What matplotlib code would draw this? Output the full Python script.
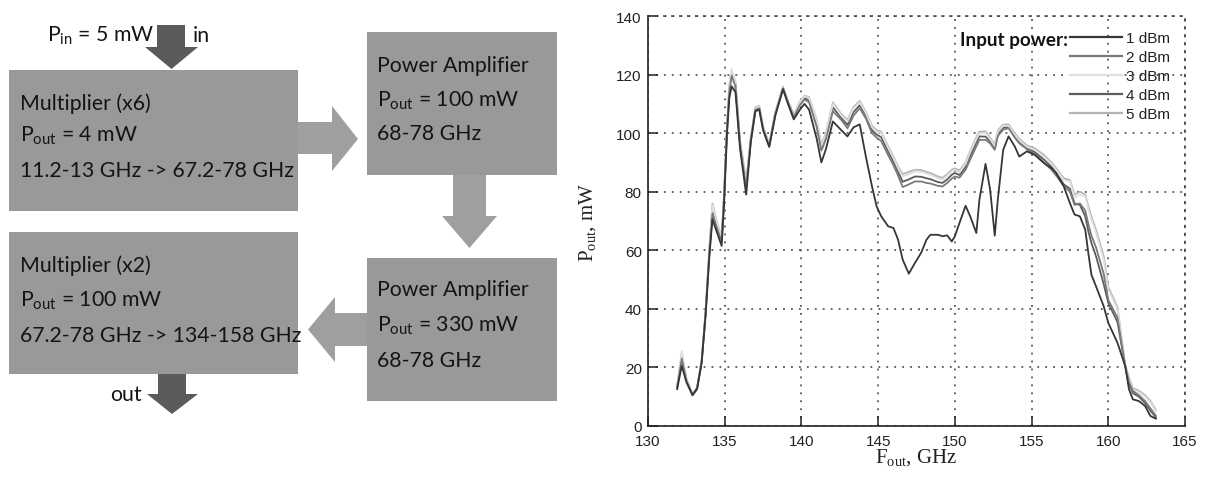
import matplotlib
matplotlib.use('Agg')
import matplotlib.pyplot as plt
from matplotlib.patches import Rectangle, Polygon
from matplotlib import font_manager

# ---------------- data ----------------
freq = [131.9, 132.2, 132.5, 132.9, 133.2, 133.5, 133.75, 134.0, 134.2, 134.5,
        134.8, 134.95, 135.15, 135.3, 135.45, 135.7, 136.0, 136.4, 136.7, 137.0,
        137.25, 137.5, 137.9, 138.3, 138.8, 139.1, 139.5, 139.9, 140.2, 140.5,
        141.0, 141.3, 141.6, 142.05, 142.6, 143.0, 143.4, 143.8, 144.2, 144.6,
        144.9, 145.2, 145.65, 146.0, 146.3, 146.6, 147.0, 147.4, 147.8, 148.15,
        148.4, 148.9, 149.2, 149.5, 149.8, 150.0, 150.3, 150.7, 151.0, 151.4,
        151.6, 152.0, 152.3, 152.6, 152.8, 153.15, 153.5, 153.9, 154.2, 154.7,
        155.2, 155.8, 156.3, 156.6, 157.1, 157.5, 157.8, 158.15, 158.5, 158.7,
        158.9, 159.2, 159.7, 160.0, 160.6, 161.1, 161.35, 161.6, 162.0, 162.4,
        162.75, 163.1]

p_1dbm = [12.6, 20.6, 15.0, 10.5, 12.6, 21.7, 37.6, 58.0, 70.6, 66.0,
          61.5, 75.0, 100.0, 112.0, 116.0, 114.0, 94.6, 79.0, 97.0, 107.5,
          108.0, 101.0, 95.3, 106.0, 115.0, 110.3, 104.7, 108.0, 110.0, 108.0,
          98.0, 90.0, 94.6, 104.0, 101.0, 98.9, 102.0, 103.0, 92.0, 81.8,
          75.0, 71.6, 68.2, 67.6, 63.6, 56.8, 52.0, 55.7, 59.1, 63.6,
          65.3, 65.3, 64.8, 65.1, 63.0, 64.8, 69.3, 75.2, 71.6, 65.9,
          77.3, 89.5, 80.7, 65.0, 77.3, 94.3, 98.9, 95.5, 92.0, 93.8,
          92.6, 89.8, 88.0, 86.4, 81.8, 76.1, 72.2, 71.6, 67.0, 59.0,
          51.7, 47.7, 40.9, 35.2, 28.4, 20.5, 12.5, 9.1, 8.5, 6.8,
          3.4, 2.5]

p_2dbm = [13.0, 23.0, 15.5, 10.8, 13.0, 22.0, 38.0, 59.0, 72.5, 67.5,
          63.0, 77.0, 101.0, 114.0, 119.5, 116.0, 96.0, 81.5, 97.5, 108.0,
          108.5, 101.5, 95.5, 106.5, 115.3, 110.8, 105.5, 109.5, 111.5, 110.5,
          102.0, 94.0, 98.0, 107.5, 104.5, 101.7, 106.0, 108.5, 105.0, 100.0,
          98.5, 97.3, 92.5, 89.0, 85.5, 81.6, 82.5, 83.5, 83.5, 83.0,
          82.8, 82.0, 81.8, 83.0, 84.5, 85.2, 84.8, 87.5, 91.0, 95.5,
          97.7, 97.7, 96.5, 94.3, 99.0, 101.2, 101.7, 98.5, 96.5, 94.5,
          93.0, 90.0, 87.5, 85.5, 82.0, 80.0, 75.5, 76.0, 73.5, 69.0,
          65.0, 61.0, 52.0, 43.0, 37.0, 20.5, 15.0, 12.0, 10.5, 8.5,
          6.0, 3.5]

p_3dbm = [13.5, 25.7, 16.0, 10.5, 13.0, 22.5, 39.0, 60.0, 75.5, 69.0,
          64.0, 78.0, 102.0, 116.0, 122.0, 117.0, 97.0, 83.0, 98.0, 108.5,
          109.0, 102.0, 96.0, 107.0, 115.5, 111.0, 106.0, 110.5, 112.6, 112.0,
          104.0, 95.5, 99.5, 110.0, 106.0, 104.0, 108.5, 110.5, 106.8, 102.0,
          100.5, 100.0, 95.0, 91.5, 88.0, 85.2, 86.0, 86.9, 86.8, 86.2,
          85.8, 84.6, 84.1, 85.5, 87.0, 87.5, 86.6, 89.5, 93.5, 98.0,
          100.0, 100.0, 98.0, 95.5, 100.5, 102.5, 102.5, 99.5, 97.5, 95.3,
          94.3, 92.0, 89.5, 87.5, 84.0, 83.5, 78.0, 79.0, 78.4, 74.0,
          70.5, 66.0, 56.8, 46.6, 39.8, 20.5, 15.9, 12.5, 11.5, 10.0,
          8.0, 5.0]

p_4dbm = [13.2, 24.0, 15.8, 10.6, 12.8, 22.2, 38.5, 59.5, 74.0, 68.0,
          63.5, 77.5, 101.5, 115.0, 120.5, 116.5, 96.5, 82.0, 97.8, 108.2,
          108.8, 101.8, 95.8, 106.8, 115.4, 111.0, 105.8, 110.0, 112.0, 111.2,
          103.0, 94.8, 98.8, 108.8, 105.2, 102.8, 107.2, 109.5, 106.0, 101.0,
          99.5, 98.6, 93.8, 90.2, 86.8, 83.4, 84.2, 85.2, 85.1, 84.6,
          84.3, 83.3, 83.0, 84.2, 85.8, 86.4, 85.7, 88.5, 92.3, 96.8,
          98.9, 98.8, 97.2, 94.9, 99.8, 101.9, 102.1, 99.0, 97.0, 94.9,
          93.6, 91.0, 88.5, 86.5, 82.5, 81.0, 76.0, 75.5, 71.6, 66.5,
          62.5, 58.0, 48.5, 42.0, 35.5, 20.5, 14.5, 11.2, 10.0, 7.8,
          5.2, 3.0]

p_5dbm = [13.6, 25.0, 16.2, 10.7, 13.2, 22.8, 39.2, 60.5, 76.0, 69.5,
          64.5, 78.5, 102.5, 116.5, 121.5, 117.5, 97.5, 83.5, 98.3, 108.8,
          109.3, 102.3, 96.3, 107.3, 115.8, 111.3, 106.3, 110.8, 112.8, 112.3,
          104.5, 96.0, 100.0, 110.5, 106.5, 104.5, 109.0, 111.0, 107.2, 102.5,
          101.0, 100.5, 95.5, 92.0, 88.5, 86.0, 86.8, 87.5, 87.4, 86.8,
          86.4, 85.2, 84.7, 86.0, 87.5, 88.0, 87.2, 90.0, 94.0, 98.6,
          100.5, 100.6, 98.5, 96.0, 101.0, 102.9, 103.0, 100.0, 98.0, 95.8,
          94.8, 92.6, 90.0, 88.0, 84.6, 84.0, 79.0, 80.0, 79.0, 75.0,
          71.5, 67.0, 58.0, 47.5, 40.5, 21.0, 16.5, 13.0, 12.0, 10.5,
          8.5, 5.5]

series_labels = ['1 dBm', '2 dBm', '3 dBm', '4 dBm', '5 dBm']
series_values = [p_1dbm, p_2dbm, p_3dbm, p_4dbm, p_5dbm]
series_colors = ['#363636', '#7a7a7a', '#e0e0e0', '#5c5c5c', '#b4b4b4']

x_ticks = [130, 135, 140, 145, 150, 155, 160, 165]
y_ticks = [0, 20, 40, 60, 80, 100, 120, 140]

# block diagram texts
box1_lines = ['Multiplier (x6)', r'P$\mathregular{_{out}}$ = 4 mW', '11.2-13 GHz -> 67.2-78 GHz']
box2_lines = ['Power Amplifier', r'P$\mathregular{_{out}}$ = 100 mW', '68-78 GHz']
box3_lines = ['Power Amplifier', r'P$\mathregular{_{out}}$ = 330 mW', '68-78 GHz']
box4_lines = ['Multiplier (x2)', r'P$\mathregular{_{out}}$ = 100 mW', '67.2-78 GHz -> 134-158 GHz']
pin_text = r'P$\mathregular{_{in}}$ = 5 mW'

# ---------------- figure ----------------
W, H = 1206, 481
plt.rcParams['font.family'] = ['Liberation Sans', 'DejaVu Sans']
fig = plt.figure(figsize=(W / 100, H / 100), dpi=100)

names = {f.name for f in font_manager.fontManager.ttflist}
if 'Liberation Sans Narrow' in names:
    diag_font, diag_size = 'Liberation Sans Narrow', 18.3
else:
    diag_font, diag_size = 'Lato', 15.3

# diagram drawn in pixel coordinates on a full-figure axes
dax = fig.add_axes([0, 0, 1, 1], zorder=0)
dax.set_xlim(0, W)
dax.set_ylim(H, 0)
dax.axis('off')

box_col = '#999999'
side_arrow_col = '#9f9f9f'
dark_arrow_col = '#5b5b5b'
txt_col = '#141414'

boxes = [(9, 71, 298, 212), (367, 33, 557, 176), (367, 259, 557, 402), (9, 233, 298, 375)]
for x0, y0, x1, y1 in boxes:
    dax.add_patch(Rectangle((x0, y0), x1 - x0, y1 - y0, facecolor=box_col, edgecolor='none'))

arrows = [
    ([(157, 26), (185, 26), (185, 48), (198, 48), (171.5, 70), (145, 48), (157, 48)], dark_arrow_col),
    ([(298, 123), (332, 123), (332, 107), (358, 140), (332, 172), (332, 155), (298, 155)], side_arrow_col),
    ([(453, 176), (486, 176), (486, 217), (497, 217), (469.5, 249), (442, 217), (453, 217)], side_arrow_col),
    ([(367, 314), (335, 314), (335, 298), (308, 330.5), (335, 363), (335, 347), (367, 347)], side_arrow_col),
    ([(158, 375), (186, 375), (186, 395), (198, 395), (172, 415), (147, 395), (158, 395)], dark_arrow_col),
]
for pts, col in arrows:
    dax.add_patch(Polygon(pts, closed=True, facecolor=col, edgecolor='none'))

def put_lines(x, baselines, lines):
    for yb, s in zip(baselines, lines):
        dax.text(x, yb, s, fontfamily=diag_font, fontsize=diag_size, color=txt_col,
                 ha='left', va='baseline')

put_lines(20, [110, 142, 177], box1_lines)
put_lines(377, [72, 107, 140], box2_lines)
put_lines(377, [296, 332, 367], box3_lines)
put_lines(20, [272, 307, 342], box4_lines)
dax.text(47, 42, pin_text, fontfamily=diag_font, fontsize=diag_size, color=txt_col, ha='left', va='baseline')
dax.text(193, 42, 'in', fontfamily=diag_font, fontsize=diag_size, color=txt_col, ha='left', va='baseline')
dax.text(110, 401, 'out', fontfamily=diag_font, fontsize=diag_size, color=txt_col, ha='left', va='baseline')

# ---------------- chart ----------------
ax = fig.add_axes([648 / W, 1 - 427 / H, 537 / W, 410 / H], zorder=1)
ax.set_xlim(130, 165)
ax.set_ylim(0, 140)
ax.set_xticks(x_ticks)
ax.set_yticks(y_ticks)
dot = (0, (1.2, 4))
ax.grid(True, linestyle=dot, color='#3c3c3c', linewidth=1.1)
ax.set_axisbelow(True)
for side in ['top', 'right']:
    ax.spines[side].set_linestyle(dot)
    ax.spines[side].set_color('#3c3c3c')
    ax.spines[side].set_linewidth(1.1)
for side in ['left', 'bottom']:
    ax.spines[side].set_color('#222222')
    ax.spines[side].set_linewidth(1.2)
ax.tick_params(direction='in', length=7, width=1.1, top=False, right=False,
               labelsize=11, colors='#222222')
ax.tick_params(axis='x', pad=5.5)
ax.tick_params(axis='y', pad=4.5)

handles = {}
for idx in [4, 3, 2, 1, 0]:
    ln, = ax.plot(freq, series_values[idx], color=series_colors[idx], lw=1.3,
                  label=series_labels[idx])
    handles[idx] = ln

leg = ax.legend([handles[i] for i in range(5)], series_labels, loc='upper left',
                bbox_to_anchor=(1070 / W, 1 - 32 / H), bbox_transform=fig.transFigure,
                frameon=False, fontsize=11, handlelength=3.4, handletextpad=0.26,
                labelspacing=0.33, borderpad=0, borderaxespad=0)
for t in leg.get_texts():
    t.set_color('#222222')
for l in leg.get_lines():
    l.set_linewidth(1.6)

fig.text(959.5 / W, 1 - 40.7 / H, 'Input power:', fontfamily=['Lato', 'DejaVu Sans'],
         fontweight='bold', fontsize=13.6, va='center', ha='left', color='#141414')

ax.set_xlabel(r'F$\mathregular{_{out}}$, GHz', fontfamily=['Liberation Serif', 'DejaVu Serif'],
              fontsize=15, va='baseline', color='#222222')
ax.xaxis.set_label_coords(0.5, (427 - 463) / 410)
ax.set_ylabel(r'P$\mathregular{_{out}}$, mW', fontfamily=['Liberation Serif', 'DejaVu Serif'],
              fontsize=15, va='center', color='#222222')
ax.yaxis.set_label_coords((588 - 648) / 537, 0.5)

fig.savefig('out.png', dpi=100)
